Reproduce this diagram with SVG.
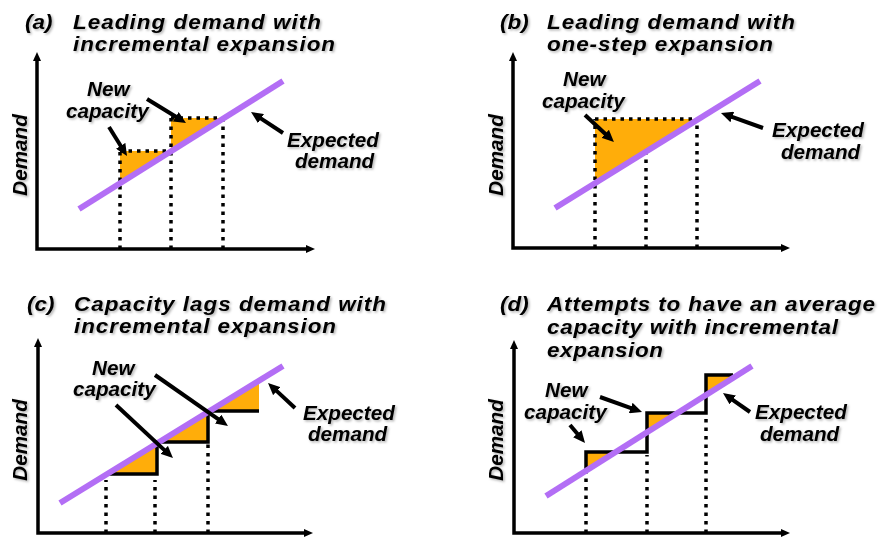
<svg xmlns="http://www.w3.org/2000/svg" width="881" height="537" viewBox="0 0 881 537">
<style>
.t{font-family:"Liberation Sans",Arial,sans-serif;font-weight:bold;font-style:italic;font-size:19.5px;fill:#000}
.l{font-family:"Liberation Sans",Arial,sans-serif;font-weight:bold;font-style:italic;font-size:19.5px;fill:#000}
.dot{stroke:#000;stroke-width:3.5;stroke-dasharray:3.5 5;fill:none}
.dem{stroke:#B36EF5;stroke-width:6;fill:none}
.cap{fill:#FFAD0A;stroke:none}
.stp{stroke:#000;stroke-width:3.5;fill:none;stroke-linejoin:miter}
.ax{stroke:#000;stroke-width:3.5;fill:none;stroke-linejoin:miter;marker-start:url(#ah);marker-end:url(#ah)}
.ar{stroke:#000;stroke-width:4;fill:none;marker-end:url(#cah)}
</style>
<defs>
<marker id="ah" viewBox="0 0 9 8" refX="3" refY="4" markerWidth="9" markerHeight="8" markerUnits="userSpaceOnUse" orient="auto-start-reverse"><path d="M0,0 L9,4 L0,8 z" fill="#000"/></marker>
<marker id="cah" viewBox="0 0 12 11" refX="4" refY="5.5" markerWidth="12" markerHeight="11" markerUnits="userSpaceOnUse" orient="auto"><path d="M0,0 L12,5.5 L0,11 z" fill="#000"/></marker>
<filter id="sh" x="-5%" y="-20%" width="115%" height="150%"><feDropShadow dx="1.5" dy="1.5" stdDeviation="0.8" flood-color="#000" flood-opacity="0.3"/></filter>
</defs>
<rect width="881" height="537" fill="#fff"/>

<!-- Panel (a) -->
<g id="panel-a">
  <g id="a-title" filter="url(#sh)">
    <text class="t" transform="translate(25,29) scale(1.15,1)">(a)</text>
    <text class="t" transform="translate(73,29) scale(1.15,1)" textLength="215.7" lengthAdjust="spacing">Leading demand with</text>
    <text class="t" transform="translate(73,51) scale(1.15,1)" textLength="227.8" lengthAdjust="spacing">incremental expansion</text>
  </g>
  <g id="a-fill">
    <polygon class="cap" points="120,151 171,151 120,183.3"/>
    <polygon class="cap" points="171,118 223,118 171,151"/>
  </g>
  <g id="a-dotted">
    <path class="dot" d="M120,249 V151 M120,151 H171 M171,249 V118 M171,118 H223 M223,249 V118"/>
  </g>
  <g id="a-axes"><path class="ax" d="M37,58 V249 H309"/></g>
  <g id="a-ylabel" filter="url(#sh)"><text class="l" transform="translate(27,155) rotate(-90) scale(1.06,1)" text-anchor="middle">Demand</text></g>
  <g id="a-demand"><line class="dem" x1="79" y1="209" x2="283" y2="81"/></g>
  <g id="a-newcap" filter="url(#sh)">
    <text class="l" transform="translate(87,96) scale(1.06,1)">New</text>
    <text class="l" transform="translate(66,118) scale(1.06,1)">capacity</text>
  </g>
  <g id="a-expected" filter="url(#sh)">
    <text class="l" transform="translate(287,146.5) scale(1.06,1)">Expected</text>
    <text class="l" transform="translate(295,168) scale(1.06,1)">demand</text>
  </g>
  <g id="a-connectors">
    <line class="ar" x1="109" y1="127" x2="122.8" y2="149.2"/>
    <line class="ar" x1="147" y1="99" x2="179.2" y2="118.8"/>
    <line class="ar" x1="283" y1="133" x2="257.7" y2="116.4"/>
  </g>
</g>

<!-- Panel (b) -->
<g id="panel-b">
  <g id="b-title" filter="url(#sh)">
    <text class="t" transform="translate(500,29) scale(1.15,1)">(b)</text>
    <text class="t" transform="translate(547,29) scale(1.15,1)" textLength="215.7" lengthAdjust="spacing">Leading demand with</text>
    <text class="t" transform="translate(547,51) scale(1.15,1)" textLength="196.5" lengthAdjust="spacing">one-step expansion</text>
  </g>
  <g id="b-fill"><polygon class="cap" points="595,119 697,119 595,183.5"/></g>
  <g id="b-dotted">
    <path class="dot" d="M595,248 V119 M595,119 H697 M646,248 V150 M697,248 V119"/>
  </g>
  <g id="b-axes"><path class="ax" d="M513,58 V248 H784"/></g>
  <g id="b-ylabel" filter="url(#sh)"><text class="l" transform="translate(503,155) rotate(-90) scale(1.06,1)" text-anchor="middle">Demand</text></g>
  <g id="b-demand"><line class="dem" x1="555" y1="208" x2="760" y2="81"/></g>
  <g id="b-newcap" filter="url(#sh)">
    <text class="l" transform="translate(563,86) scale(1.06,1)">New</text>
    <text class="l" transform="translate(542,108) scale(1.06,1)">capacity</text>
  </g>
  <g id="b-expected" filter="url(#sh)">
    <text class="l" transform="translate(772,137) scale(1.06,1)">Expected</text>
    <text class="l" transform="translate(781,159) scale(1.06,1)">demand</text>
  </g>
  <g id="b-connectors">
    <line class="ar" x1="585" y1="115" x2="608.1" y2="136.5"/>
    <line class="ar" x1="763" y1="128" x2="728.5" y2="115.7"/>
  </g>
</g>

<!-- Panel (c) -->
<g id="panel-c">
  <g id="c-title" filter="url(#sh)">
    <text class="t" transform="translate(27,311) scale(1.15,1)">(c)</text>
    <text class="t" transform="translate(74,311) scale(1.15,1)" textLength="271.3" lengthAdjust="spacing">Capacity lags demand with</text>
    <text class="t" transform="translate(74,333) scale(1.15,1)" textLength="227.8" lengthAdjust="spacing">incremental expansion</text>
  </g>
  <g id="c-fill">
    <polygon class="cap" points="108,474 157,474 157,443.6"/>
    <polygon class="cap" points="157,442 208,442 208,412.4"/>
    <polygon class="cap" points="208,411 259,411 259,381.2"/>
  </g>
  <g id="c-dotted">
    <path class="dot" d="M106,533 V480 M155,533 V480 M208,533 V444"/>
  </g>
  <g id="c-steps"><path class="stp" d="M108,474 H157 V442 H208 V411 H259"/></g>
  <g id="c-axes"><path class="ax" d="M38,344 V533 H307"/></g>
  <g id="c-ylabel" filter="url(#sh)"><text class="l" transform="translate(27,440) rotate(-90) scale(1.06,1)" text-anchor="middle">Demand</text></g>
  <g id="c-demand"><line class="dem" x1="60" y1="503" x2="283" y2="366"/></g>
  <g id="c-newcap" filter="url(#sh)">
    <text class="l" transform="translate(92,375) scale(1.06,1)">New</text>
    <text class="l" transform="translate(73,396) scale(1.06,1)">capacity</text>
  </g>
  <g id="c-expected" filter="url(#sh)">
    <text class="l" transform="translate(303,420) scale(1.06,1)">Expected</text>
    <text class="l" transform="translate(308,441) scale(1.06,1)">demand</text>
  </g>
  <g id="c-connectors">
    <line class="ar" x1="116" y1="405" x2="167.1" y2="452.6"/>
    <line class="ar" x1="155" y1="375" x2="221.4" y2="421.4"/>
    <line class="ar" x1="295" y1="408" x2="273.9" y2="388.4"/>
  </g>
</g>

<!-- Panel (d) -->
<g id="panel-d">
  <g id="d-title" filter="url(#sh)">
    <text class="t" transform="translate(500,311) scale(1.15,1)">(d)</text>
    <text class="t" transform="translate(547,311) scale(1.15,1)" textLength="285.2" lengthAdjust="spacing">Attempts to have an average</text>
    <text class="t" transform="translate(547,334) scale(1.15,1)" textLength="253" lengthAdjust="spacing">capacity with incremental</text>
    <text class="t" transform="translate(547,357) scale(1.15,1)" textLength="100.9" lengthAdjust="spacing">expansion</text>
  </g>
  <g id="d-fill">
    <polygon class="cap" points="586,452 615.5,452 586,470.5"/>
    <polygon class="cap" points="647,413 677.5,413 647,432.2"/>
    <polygon class="cap" points="706,375 736,375 706,395"/>
  </g>
  <g id="d-dotted">
    <path class="dot" d="M586,533 V471 M647,533 V455 M706,533 V416"/>
  </g>
  <g id="d-steps"><path class="stp" d="M586,471 V452 H647 V413 H706 V375 H733"/></g>
  <g id="d-axes"><path class="ax" d="M514,346 V533 H784"/></g>
  <g id="d-ylabel" filter="url(#sh)"><text class="l" transform="translate(503,440) rotate(-90) scale(1.06,1)" text-anchor="middle">Demand</text></g>
  <g id="d-demand"><line class="dem" x1="546" y1="496" x2="752" y2="366"/></g>
  <g id="d-newcap" filter="url(#sh)">
    <text class="l" transform="translate(545,397) scale(1.06,1)">New</text>
    <text class="l" transform="translate(524,419) scale(1.06,1)">capacity</text>
  </g>
  <g id="d-expected" filter="url(#sh)">
    <text class="l" transform="translate(755,419) scale(1.06,1)">Expected</text>
    <text class="l" transform="translate(760,441) scale(1.06,1)">demand</text>
  </g>
  <g id="d-connectors">
    <line class="ar" x1="570" y1="425" x2="579.9" y2="436.8"/>
    <line class="ar" x1="600" y1="397" x2="634.5" y2="409.3"/>
    <line class="ar" x1="750" y1="412" x2="729.5" y2="397.6"/>
  </g>
</g>
</svg>
